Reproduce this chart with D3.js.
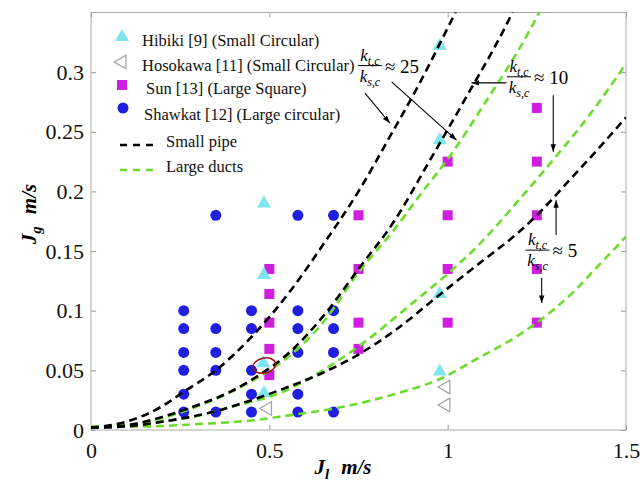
<!DOCTYPE html>
<html>
<head>
<meta charset="utf-8">
<script src="https://cdn.jsdelivr.net/npm/d3@7"></script>
<style>
body { margin: 0; background: #fff; }
text { font-family: "Liberation Serif", "Times New Roman", serif; }
</style>
</head>
<body>
<script>
var width  = 641;
var height = 481;

// tick values / labels
var xTicks      = [0, 0.5, 1, 1.5];
var xTickLabels = ['0', '0.5', '1', '1.5'];
var yTicks      = [0, 0.05, 0.1, 0.15, 0.2, 0.25, 0.3];
var yTickLabels = ['0', '0.05', '0.1', '0.15', '0.2', '0.25', '0.3'];

// Hibiki [9]
var hibikiJl = [0.485, 0.485, 0.483, 0.485, 0.978, 0.978, 0.978, 0.978];
var hibikiJg = [0.19, 0.13, 0.056, 0.031, 0.322, 0.243, 0.114, 0.049];

// Hosokawa [11]
var hosokawaJl = [0.495, 0.995, 0.995];
var hosokawaJg = [0.018, 0.036, 0.021];

// Sun [13]
var sunJl = [0.5, 0.5, 0.5, 0.5, 0.5, 0.75, 0.75, 0.75, 0.75, 1, 1, 1, 1, 1.25, 1.25, 1.25, 1.25, 1.25];
var sunJg = [0.135, 0.114, 0.09, 0.068, 0.046, 0.18, 0.135, 0.09, 0.068, 0.225, 0.18, 0.135, 0.09, 0.27, 0.225, 0.18, 0.135, 0.09];

// Shawkat [12]
var shawkatJl = [0.26, 0.26, 0.26, 0.26, 0.26, 0.26,
	0.35, 0.35, 0.35, 0.35, 0.35,
	0.45, 0.45, 0.45, 0.45, 0.45,
	0.58, 0.58, 0.58, 0.58, 0.58, 0.58,
	0.68, 0.68, 0.68, 0.68, 0.68];
var shawkatJg = [0.1, 0.085, 0.065, 0.05, 0.03, 0.015,
	0.18, 0.085, 0.065, 0.05, 0.015,
	0.1, 0.085, 0.05, 0.03, 0.015,
	0.18, 0.1, 0.085, 0.065, 0.03, 0.015,
	0.18, 0.1, 0.085, 0.065, 0.015];

// model curves, [Jl, Jg]
var smallPipe25 = [[0, 0.002], [0.1, 0.007], [0.2, 0.02], [0.26, 0.032], [0.35, 0.05], [0.45, 0.078], [0.56, 0.117],
	[0.65, 0.155], [0.75, 0.2], [0.84, 0.247], [0.92, 0.29], [1.0, 0.337], [1.03, 0.355]];
var smallPipe10 = [[0, 0.002], [0.1, 0.004], [0.2, 0.011], [0.3, 0.021], [0.39, 0.032], [0.45, 0.042], [0.56, 0.066],
	[0.65, 0.095], [0.75, 0.135], [0.85, 0.175], [0.95, 0.226], [1.05, 0.278], [1.16, 0.337], [1.19, 0.355]];
var smallPipe5  = [[0, 0.002], [0.1, 0.003], [0.2, 0.007], [0.34, 0.015], [0.45, 0.025], [0.53, 0.0335], [0.65, 0.048],
	[0.754, 0.064], [0.85, 0.083], [0.98, 0.114], [1.09, 0.14], [1.2, 0.166], [1.25, 0.18], [1.34, 0.209], [1.42, 0.235], [1.5, 0.262]];
var largeDuct25 = [[0, 0.003], [0.1, 0.004], [0.2, 0.01], [0.3, 0.02], [0.4, 0.033], [0.5, 0.05], [0.56, 0.063],
	[0.65, 0.09], [0.75, 0.132], [0.85, 0.168], [0.93, 0.2], [1.0, 0.227], [1.1, 0.272], [1.23, 0.335], [1.26, 0.352]];
var largeDuct10 = [[0, 0.003], [0.1, 0.003], [0.2, 0.007], [0.3, 0.012], [0.4, 0.02], [0.53, 0.031], [0.65, 0.05],
	[0.75, 0.07], [0.9, 0.106], [1.0, 0.131], [1.09, 0.156], [1.2, 0.193], [1.3, 0.228], [1.4, 0.265], [1.5, 0.307]];
var largeDuct5  = [[0, 0.003], [0.15, 0.003], [0.3, 0.005], [0.45, 0.008], [0.56, 0.0125], [0.7, 0.019], [0.85, 0.03],
	[0.98, 0.043], [1.09, 0.061], [1.175, 0.075], [1.25, 0.09], [1.35, 0.115], [1.42, 0.137], [1.5, 0.162]];

var svg = d3.select('body').append('svg')
	.attr('width', width)
	.attr('height', height);

svg.append('rect').attr('width', width).attr('height', height).attr('fill', '#fff');

var x = d3.scaleLinear().domain([0, 1.5]).range([91, 626]);
var y = d3.scaleLinear().domain([0, 0.35]).range([430, 12.5]);

svg.append('clipPath').attr('id', 'plot')
	.append('rect')
	.attr('x', x(0)).attr('y', y(0.35))
	.attr('width', x(1.5) - x(0)).attr('height', y(0) - y(0.35));

// axes
function styleAxis(g) {
	g.select('.domain').remove();
	g.selectAll('.tick line').attr('stroke', '#999');
	g.selectAll('.tick text').attr('fill', '#111').style('font-size', '22px')
		.style('font-family', '"Liberation Serif", "Times New Roman", serif');
}

svg.append('g').attr('transform', 'translate(0,' + y(0) + ')')
	.call(d3.axisBottom(x).tickValues(xTicks).tickFormat(function(d, i) { return xTickLabels[i]; })
		.tickSizeInner(-5).tickSizeOuter(0).tickPadding(12))
	.call(styleAxis);

svg.append('g').attr('transform', 'translate(0,' + y(0.35) + ')')
	.call(d3.axisTop(x).tickValues(xTicks).tickFormat('').tickSizeInner(-5).tickSizeOuter(0))
	.call(styleAxis);

svg.append('g').attr('transform', 'translate(' + x(0) + ',0)')
	.call(d3.axisLeft(y).tickValues(yTicks).tickFormat(function(d, i) { return yTickLabels[i]; })
		.tickSizeInner(-5).tickSizeOuter(0).tickPadding(7))
	.call(styleAxis);

svg.append('g').attr('transform', 'translate(' + x(1.5) + ',0)')
	.call(d3.axisRight(y).tickValues(yTicks).tickFormat('').tickSizeInner(-5).tickSizeOuter(0))
	.call(styleAxis);

svg.append('rect')
	.attr('x', x(0)).attr('y', y(0.35))
	.attr('width', x(1.5) - x(0)).attr('height', y(0) - y(0.35))
	.attr('fill', 'none').attr('stroke', '#aaa').attr('stroke-width', 1);

// axis titles
var yt = svg.append('text')
	.attr('transform', 'translate(36,214) rotate(-90)')
	.attr('text-anchor', 'middle')
	.style('font-size', '21px').style('font-weight', 'bold').style('font-style', 'italic');
yt.append('tspan').text('J');
yt.append('tspan').attr('dy', 5).style('font-size', '15px').text('g');
yt.append('tspan').attr('dy', -5).attr('dx', 12).text('m/s');

var xt = svg.append('text')
	.attr('x', 343).attr('y', 474)
	.attr('text-anchor', 'middle')
	.style('font-size', '21px').style('font-weight', 'bold').style('font-style', 'italic');
xt.append('tspan').text('J');
xt.append('tspan').attr('dy', 5).style('font-size', '15px').text('l');
xt.append('tspan').attr('dy', -5).attr('dx', 12).text('m/s');

var plot = svg.append('g').attr('clip-path', 'url(#plot)');

var blue = '#1f1fe0', magenta = '#d01ee0', cyan = '#7fe6f0', grey = '#a0a0a0';
var black = '#000', green = '#6cdc2c';

var tri = d3.symbol().type(d3.symbolTriangle).size(85);
var triL = d3.symbol().type(d3.symbolTriangle).size(80);

// markers
plot.selectAll('.shawkat')
	.data(shawkatJl)
	.enter().append('circle')
		.attr('cx', function(d) { return x(d); })
		.attr('cy', function(d, i) { return y(shawkatJg[i]); })
		.attr('r', 5.5)
		.attr('fill', blue);

plot.selectAll('.sun')
	.data(sunJl)
	.enter().append('rect')
		.attr('x', function(d) { return x(d) - 5; })
		.attr('y', function(d, i) { return y(sunJg[i]) - 5; })
		.attr('width', 10).attr('height', 10)
		.attr('fill', magenta);

plot.selectAll('.hibiki')
	.data(hibikiJl)
	.enter().append('path')
		.attr('d', tri)
		.attr('transform', function(d, i) { return 'translate(' + x(d) + ',' + y(hibikiJg[i]) + ')'; })
		.attr('fill', cyan);

plot.selectAll('.hosokawa')
	.data(hosokawaJl)
	.enter().append('path')
		.attr('d', triL)
		.attr('transform', function(d, i) { return 'translate(' + x(d) + ',' + y(hosokawaJg[i]) + ') rotate(-90)'; })
		.attr('fill', 'none').attr('stroke', grey).attr('stroke-width', 1.2);

// curves
var line = d3.line()
	.x(function(d) { return x(d[0]); })
	.y(function(d) { return y(d[1]); })
	.curve(d3.curveMonotoneX);

var curves = [
	{ pts: largeDuct25, c: green }, { pts: largeDuct10, c: green }, { pts: largeDuct5, c: green },
	{ pts: smallPipe25, c: black }, { pts: smallPipe10, c: black }, { pts: smallPipe5, c: black }
];

plot.selectAll('.curve')
	.data(curves)
	.enter().append('path')
		.attr('d', function(d) { return line(d.pts); })
		.attr('fill', 'none')
		.attr('stroke', function(d) { return d.c; })
		.attr('stroke-width', 2.6)
		.attr('stroke-dasharray', '8,5');

// circled point
svg.append('ellipse')
	.attr('cx', x(0.486)).attr('cy', y(0.054))
	.attr('rx', 11.5).attr('ry', 7.5)
	.attr('transform', 'rotate(-12,' + x(0.486) + ',' + y(0.054) + ')')
	.attr('fill', 'none').attr('stroke', '#a01818').attr('stroke-width', 1.5);

// annotations
svg.append('defs').append('marker')
	.attr('id', 'head')
	.attr('viewBox', '0 0 10 10')
	.attr('refX', 10).attr('refY', 5)
	.attr('markerWidth', 7).attr('markerHeight', 7)
	.attr('orient', 'auto')
	.append('path').attr('d', 'M0,1.5 L10,5 L0,8.5 Z').attr('fill', '#000');

function arrow(x1, y1, x2, y2) {
	svg.append('line')
		.attr('x1', x(x1)).attr('y1', y(y1))
		.attr('x2', x(x2)).attr('y2', y(y2))
		.attr('stroke', '#000').attr('stroke-width', 1.1)
		.attr('marker-end', 'url(#head)');
}

function kterm(g, cx, cy, sub) {
	var t = g.append('text').attr('x', cx).attr('y', cy).attr('text-anchor', 'middle')
		.style('font-size', '17px').style('font-style', 'italic');
	t.append('tspan').text('k');
	t.append('tspan').attr('dy', 4).style('font-size', '12px').text(sub);
}

function ratio(jl, jgBar, value) {
	var g = svg.append('g');
	var cx = x(jl), by = y(jgBar);
	kterm(g, cx, by - 5, 't,c');
	g.append('line').attr('x1', cx - 12).attr('x2', cx + 12).attr('y1', by).attr('y2', by)
		.attr('stroke', '#000').attr('stroke-width', 1);
	kterm(g, cx, by + 16, 's,c');
	g.append('text').attr('x', cx + 15).attr('y', by + 7)
		.style('font-size', '19px').text('\u2248 ' + value);
}

ratio(0.782, 0.3055, '25');
arrow(0.768, 0.2824, 0.838, 0.2573);
arrow(0.843, 0.2919, 1.025, 0.243);

ratio(1.2, 0.2961, '10');
arrow(1.165, 0.291, 1.067, 0.291);
arrow(1.296, 0.2807, 1.296, 0.2332);

ratio(1.252, 0.1508, '5');
arrow(1.304, 0.1634, 1.304, 0.1927);
arrow(1.2636, 0.1274, 1.2636, 0.1064);

// legend
var legend = svg.append('g');
var lx = 122, tx = 142;

legend.append('path').attr('d', tri).attr('transform', 'translate(' + lx + ',37)').attr('fill', cyan);
legend.append('path').attr('d', triL).attr('transform', 'translate(' + lx + ',62) rotate(-90)')
	.attr('fill', 'none').attr('stroke', grey).attr('stroke-width', 1.2);
legend.append('rect').attr('x', lx - 5).attr('y', 80).attr('width', 10).attr('height', 10).attr('fill', magenta);
legend.append('circle').attr('cx', lx + 1).attr('cy', 108).attr('r', 5.5).attr('fill', blue);
legend.append('line').attr('x1', 120).attr('x2', 154).attr('y1', 145).attr('y2', 145)
	.attr('stroke', black).attr('stroke-width', 2.6).attr('stroke-dasharray', '7,6');
legend.append('line').attr('x1', 120).attr('x2', 154).attr('y1', 170).attr('y2', 170)
	.attr('stroke', green).attr('stroke-width', 2.6).attr('stroke-dasharray', '7,6');

var legendText = [
	['Hibiki [9] (Small Circular)', tx, 46],
	['Hosokawa [11] (Small Circular)', tx, 71],
	['Sun [13] (Large Square)', 146, 94],
	['Shawkat [12] (Large circular)', 144, 120],
	['Small pipe', 166, 147],
	['Large ducts', 166, 172]
];
legend.selectAll('.lt')
	.data(legendText)
	.enter().append('text')
		.attr('x', function(d) { return d[1]; })
		.attr('y', function(d) { return d[2]; })
		.style('font-size', '16.5px')
		.attr('fill', '#111')
		.text(function(d) { return d[0]; });
</script>
</body>
</html>
